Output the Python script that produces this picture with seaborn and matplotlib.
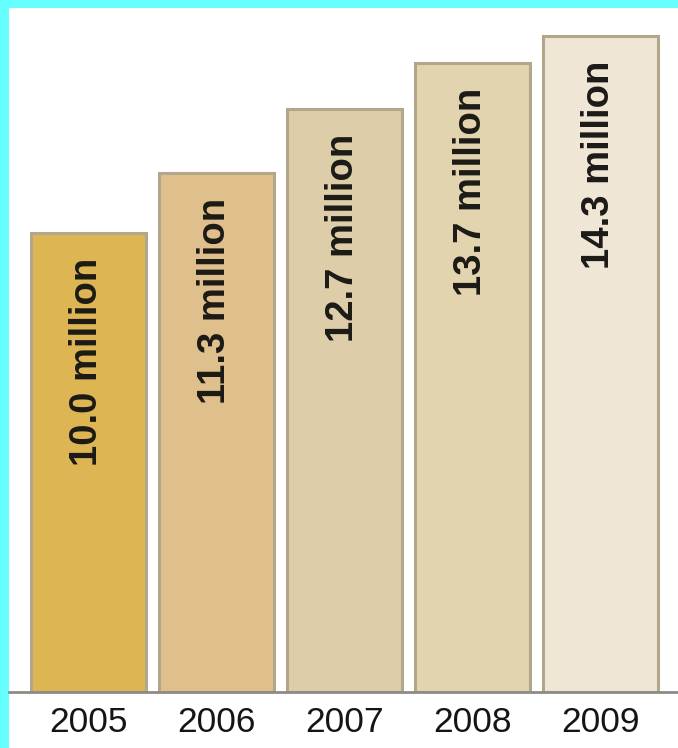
import numpy as np
import pandas as pd
import matplotlib
matplotlib.use("Agg")
import matplotlib.pyplot as plt
import seaborn as sns
from matplotlib.patches import Rectangle

# data
years = ["2005", "2006", "2007", "2008", "2009"]
values = [10.0, 11.3, 12.7, 13.7, 14.3]
labels = ["10.0 million", "11.3 million", "12.7 million", "13.7 million", "14.3 million"]
bar_colors = ["#DDB653", "#DFC08D", "#DDCEA9", "#E3D4B0", "#F0E6D6"]

df = pd.DataFrame({"year": years, "value": values})

sns.set_style("white")

fig = plt.figure(figsize=(6.78, 7.48), dpi=100, facecolor="#66FFFF")
# white panel inside the cyan frame (frame only on the left and top)
fig.patches.append(Rectangle((9 / 678, 0), 1 - 9 / 678, 740 / 748,
                             transform=fig.transFigure, facecolor="white",
                             edgecolor="none", zorder=-10))

ax = fig.add_axes([9 / 678, 56 / 748, 1 - 9 / 678, 684 / 748])
ax.set_facecolor("none")

sns.barplot(data=df, x="year", y="value", hue="year", palette=bar_colors,
            legend=False, width=0.9, edgecolor="#B2A68C", linewidth=2.2,
            saturation=1, ax=ax)

ax.set_xlim(-0.621, 4.605)
ax.set_ylim(0, 14.9)

# rotated value labels near the top of each bar
for i, (v, lab) in enumerate(zip(values, labels)):
    ax.annotate(lab, xy=(i, v), xytext=(-1, -18), textcoords="offset points",
                rotation=90, ha="center", va="top", fontsize=27.5,
                fontweight="bold", family=["Liberation Sans", "DejaVu Sans"],
                color="#1C1A16")

ax.set_xlabel("")
ax.set_ylabel("")
ax.set_yticks([])
ax.tick_params(axis="x", length=0, pad=10)
for t in ax.get_xticklabels():
    t.set_family(["Liberation Sans Narrow", "Liberation Sans", "DejaVu Sans"])
    t.set_fontsize(25.5)
    t.set_fontweight("medium")
    t.set_color("#151515")

for s in ["left", "right", "top"]:
    ax.spines[s].set_visible(False)
ax.spines["bottom"].set_color("#8C8C86")
ax.spines["bottom"].set_linewidth(2)

fig.savefig("out.png", dpi=100, facecolor=fig.get_facecolor())
